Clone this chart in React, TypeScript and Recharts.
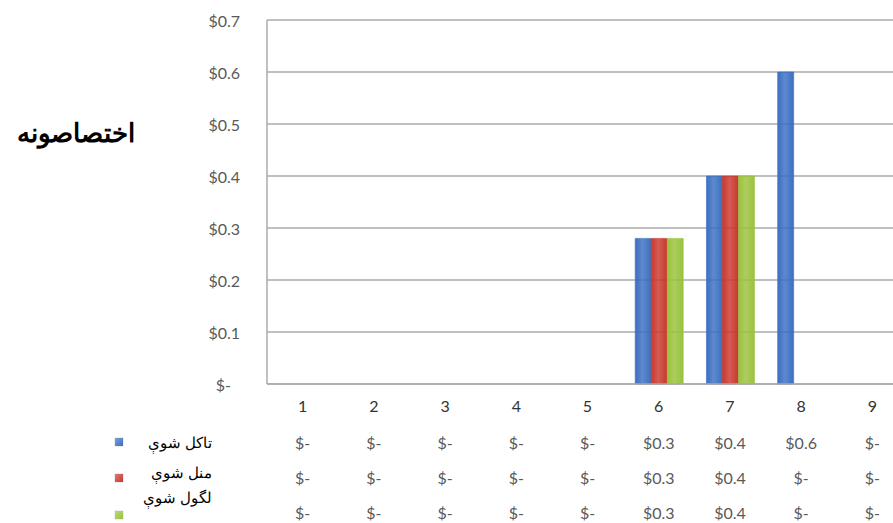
import React from 'react';
import { BarChart, Bar, XAxis, YAxis, CartesianGrid, Legend } from 'recharts';

const categories = ['1', '2', '3', '4', '5', '6', '7', '8', '9'];
const takalShawi = [0, 0, 0, 0, 0, 0.28, 0.4, 0.6, 0];
const manalShawi = [0, 0, 0, 0, 0, 0.28, 0.4, 0, 0];
const lagawalShawi = [0, 0, 0, 0, 0, 0.28, 0.4, 0, 0];
const yTicks = [0, 0.1, 0.2, 0.3, 0.4, 0.5, 0.6, 0.7];
const seriesNames = ['تاکل شوې', 'منل شوې', 'لگول شوې'];
const seriesKeys = ['takal', 'manal', 'lagawal'];
const seriesColors = ['#3b6fc2', '#c9382e', '#9ac23d'];
const titleText = 'اختصاصونه';

const seriesValues = [takalShawi, manalShawi, lagawalShawi];

const data = categories.map((c, i) => ({
  cat: c,
  takal: takalShawi[i],
  manal: manalShawi[i],
  lagawal: lagawalShawi[i],
}));

const money = (v: number) => (v === 0 ? '$-' : '$' + v.toFixed(1));

const labelFont = 'Lato, "Open Sans", sans-serif';

const TableTick = (props: any) => {
  const { x, y, payload } = props;
  const i = categories.indexOf(String(payload.value));
  const rowOffsets = [58, 93, 128];
  return (
    <g>
      <text x={x} y={y + 21} textAnchor="middle" dominantBaseline="central" fill="#333" fontSize={16} fontFamily={labelFont}>
        {payload.value}
      </text>
      {seriesValues.map((vals, r) => (
        <text key={r} x={x} y={y + rowOffsets[r]} textAnchor="middle" dominantBaseline="central" fill="#595959" fontSize={16} fontFamily={labelFont}>
          {money(vals[i])}
        </text>
      ))}
    </g>
  );
};

const MoneyYTick = (props: any) => {
  const { x, y, payload } = props;
  const v = Number(payload.value);
  return (
    <text x={v === 0 ? x - 9 : x} y={y} textAnchor="end" dominantBaseline="central" fill="#595959" fontSize={16} fontFamily={labelFont}>
      {money(v)}
    </text>
  );
};

const legendRows = [
  { textY: 443, keyY: 442 },
  { textY: 473, keyY: 478 },
  { textY: 498, keyY: 515 },
];

const renderLegend = () => (
  <div style={{ position: 'relative', width: 230, height: 523 }}>
    {seriesNames.map((name, i) => (
      <React.Fragment key={name}>
        <div
          style={{
            position: 'absolute',
            left: 115,
            top: legendRows[i].keyY - 4,
            width: 8,
            height: 8,
            background: `linear-gradient(135deg, ${seriesColors[i]}aa, ${seriesColors[i]})`,
            boxShadow: '0 0 1px rgba(0,0,0,0.4)',
          }}
        />
        <div
          style={{
            position: 'absolute',
            right: 230 - 212,
            top: legendRows[i].textY - 10,
            height: 20,
            lineHeight: '20px',
            direction: 'rtl',
            fontFamily: '"Liberation Sans", Arial, sans-serif',
            fontSize: 15,
            color: '#000',
            whiteSpace: 'nowrap',
          }}
        >
          {name}
        </div>
      </React.Fragment>
    ))}
  </div>
);

export default function App() {
  return (
    <div style={{ position: 'absolute', left: 0, top: 0, width: 893, height: 523, overflow: 'hidden', background: '#fff' }}>
      <div
        style={{
          position: 'absolute',
          right: 893 - 135,
          top: 133 - 17,
          height: 34,
          lineHeight: '34px',
          direction: 'rtl',
          fontFamily: '"Liberation Sans", Arial, sans-serif',
          fontWeight: 'bold',
          fontSize: 26,
          color: '#000',
          whiteSpace: 'nowrap',
        }}
      >
        {titleText}
      </div>
      <BarChart
        width={910}
        height={523}
        data={data}
        margin={{ top: 20, right: 2, bottom: 0, left: 0 }}
        barCategoryGap="17%"
        barGap={0}
      >
        <defs>
          {seriesKeys.map((k, i) => (
            <linearGradient key={k} id={'grad-' + k} x1="0" y1="0" x2="1" y2="0">
              <stop offset="0%" stopColor={seriesColors[i]} stopOpacity={1} />
              <stop offset="45%" stopColor={seriesColors[i]} stopOpacity={0.82} />
              <stop offset="100%" stopColor={seriesColors[i]} stopOpacity={1} />
            </linearGradient>
          ))}
        </defs>
        <CartesianGrid vertical={false} stroke="#ababab" strokeWidth={1.5} />
        <XAxis
          dataKey="cat"
          height={139}
          tickLine={false}
          tickSize={0}
          tickMargin={0}
          axisLine={{ stroke: '#ababab', strokeWidth: 1.5 }}
          tick={<TableTick />}
          interval={0}
        />
        <YAxis
          width={267}
          domain={[0, 0.7]}
          ticks={yTicks}
          tickLine={false}
          tickSize={0}
          tickMargin={27}
          axisLine={{ stroke: '#ababab', strokeWidth: 1.5 }}
          tick={<MoneyYTick />}
        />
        <Legend
          layout="vertical"
          align="center"
          verticalAlign="middle"
          content={renderLegend}
          wrapperStyle={{ position: 'absolute', left: 0, top: 0, width: 230, height: 523 }}
        />
        {seriesKeys.map((k, i) => (
          <Bar
            key={k}
            dataKey={k}
            name={seriesNames[i]}
            fill={`url(#grad-${k})`}
            stroke={seriesColors[i]}
            strokeOpacity={0.6}
            isAnimationActive={false}
          />
        ))}
      </BarChart>
    </div>
  );
}
